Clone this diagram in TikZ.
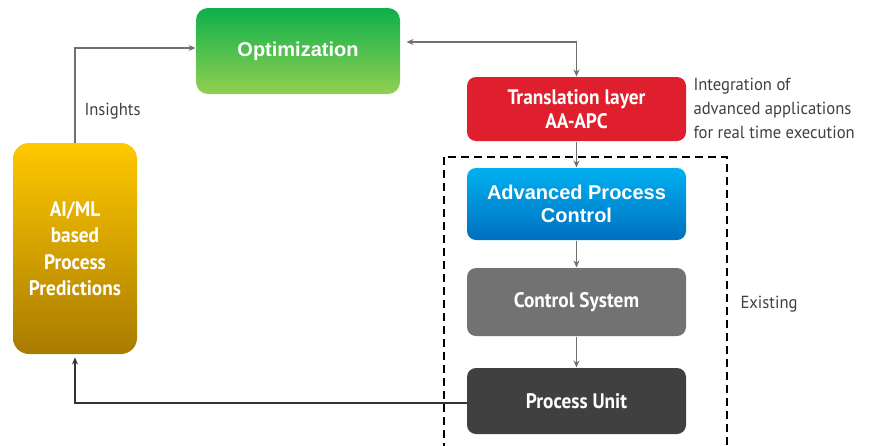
\documentclass[tikz,border=0pt]{standalone}
\usepackage{fontspec}
\setmainfont{Liberation Sans}
\newfontfamily\narrowfont{PT Sans}[FakeStretch=0.92]
\newfontfamily\notefont{PT Sans}[FakeStretch=0.95]
\usetikzlibrary{arrows.meta}
\definecolor{optgreentop}{HTML}{0DB04B}
\definecolor{optgreenbot}{HTML}{92D050}
\definecolor{transred}{HTML}{DF1F2D}
\definecolor{apcbluetop}{HTML}{00B0F0}
\definecolor{apcbluebot}{HTML}{0070C0}
\definecolor{ctrlgray}{HTML}{727272}
\definecolor{unitgray}{HTML}{404040}
\definecolor{aigoldtop}{HTML}{FFC800}
\definecolor{aigoldbot}{HTML}{A87B00}
\definecolor{linegray}{HTML}{707070}
\definecolor{notegray}{HTML}{404040}

\begin{document}
\begin{tikzpicture}[x=1pt,y=-1pt,line width=1pt,
  box/.style={rounded corners=9pt,minimum width=219pt,minimum height=66pt,text=white,align=center,inner sep=0pt},
  boldlabel/.style={font=\bfseries\fontsize{20}{23}\selectfont},
  narrowlabel/.style={font=\narrowfont\bfseries\fontsize{21}{24}\selectfont},
  note/.style={inner sep=0pt,text=notegray,align=left,font=\notefont\fontsize{17.5}{24}\selectfont},
  link/.style={draw=linegray,line width=1.8pt,-{Stealth[length=7pt,width=6pt]}}]
\path[use as bounding box] (0,0) rectangle (871,445);
% boxes
\node[box,boldlabel,minimum width=204pt,minimum height=86pt,rounded corners=12pt,top color=optgreentop,bottom color=optgreenbot] (opt) at (298,51) {Optimization};
\node[box,narrowlabel,minimum height=64pt,fill=transred] (trans) at (576.5,109) {Translation layer\\AA-APC};
\node[box,boldlabel,minimum height=72pt,top color=apcbluetop,bottom color=apcbluebot] (apc) at (576.5,204) {Advanced Process\\Control};
\node[box,narrowlabel,minimum height=68pt,fill=ctrlgray] (ctrl) at (576.5,302) {Control System};
\node[box,narrowlabel,minimum height=66pt,fill=unitgray] (unit) at (576.5,401) {Process Unit};
\node[box,font=\narrowfont\bfseries\fontsize{21}{26.5}\selectfont,minimum width=124pt,minimum height=211pt,rounded corners=16pt,top color=aigoldtop,bottom color=aigoldbot] (ai) at (75,248.5) {AI/ML\\based\\Process\\Predictions};
% existing system frame
\draw[line width=1.8pt,dash pattern=on 8pt off 5pt] (444,157) rectangle (727,452);
% labels
\node[note,anchor=west] (insights) at (84,111) {Insights};
\node[note,anchor=north west] (integration) at (693,78) {Integration of\\advanced applications\\for real time execution};
\node[note,anchor=west] (existing) at (740,304) {Existing};
% connectors
\draw[link] (ai.north) |- ([yshift=3pt]opt.west);
\draw[link,{Stealth[length=7pt,width=6pt]}-{Stealth[length=7pt,width=6pt]}] ([xshift=6pt,yshift=9pt]opt.east) -| (trans.north);
\draw[link] (trans.south) -- (apc.north);
\draw[link] (apc.south) -- (ctrl.north);
\draw[link] (ctrl.south) -- (unit.north);
\draw[link,draw=black!80,line width=1.2pt,shorten >=3pt] ([yshift=-2pt]unit.west) -| (ai.south);
\end{tikzpicture}
\end{document}
